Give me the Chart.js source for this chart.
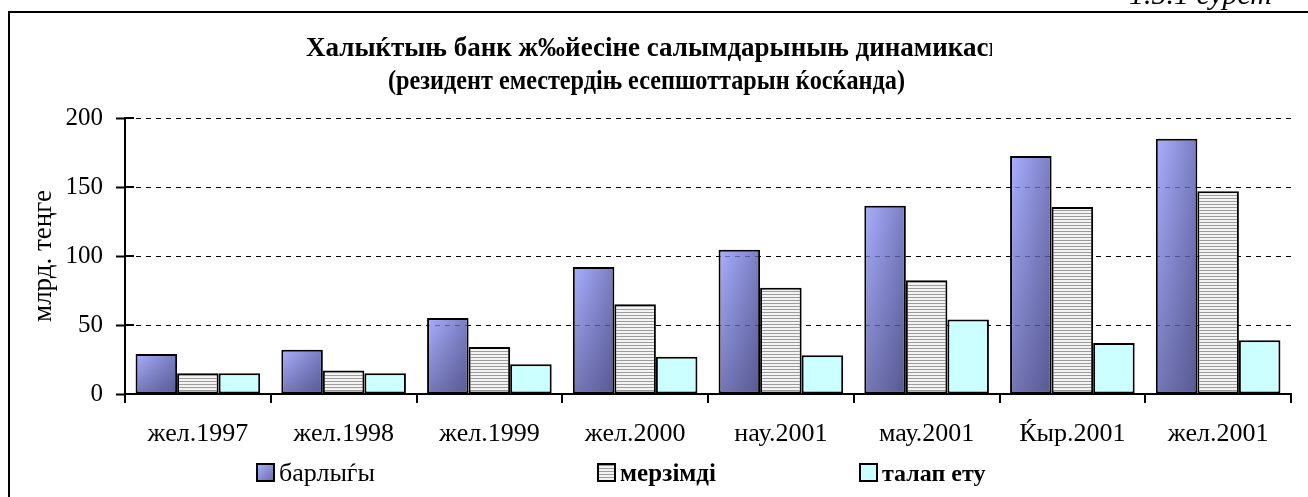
<!DOCTYPE html>
<html>
<head>
<meta charset="utf-8">
<script src="https://cdn.jsdelivr.net/npm/chart.js@4.4.1/dist/chart.umd.min.js"></script>
<style>
  html, body { margin: 0; padding: 0; background: #fff; }
  #wrap { position: relative; width: 1308px; height: 497px; overflow: hidden; }
</style>
</head>
<body>
<div id="wrap"><canvas id="chart" width="1308" height="497"></canvas></div>
<script>
// chart data
const months = ['жел.1997', 'жел.1998', 'жел.1999', 'жел.2000', 'нау.2001', 'мау.2001', 'Ќыр.2001', 'жел.2001'];
const totalVals = [29, 32, 55, 92, 104.5, 136.5, 172.5, 185];
const termVals = [15, 17, 34, 65, 77, 82.5, 135.5, 147];
const demandVals = [15, 15, 21.5, 27, 28, 54, 37, 39];
const seriesNames = ['барлыѓы', 'мерзімді', 'талап ету'];
const yMax = 200;
const yStep = 50;
const titleLines = ['Халыќтыњ банк ж‰йесіне салымдарыныњ динамикасы', '(резидент еместердіњ есепшоттарын ќосќанда)'];
const yTitle = 'млрд. теңге';
const figLabel = '1.5.1 сурет';

const SERIF = '"Liberation Serif", "Times New Roman", serif';
Chart.defaults.font.family = SERIF;
Chart.defaults.color = '#000';

const canvas = document.getElementById('chart');
const ctx = canvas.getContext('2d');

// horizontal hatch for "мерзімді"
function makeHatch() {
    const c = document.createElement('canvas');
    c.width = 4; c.height = 3;
    const g = c.getContext('2d');
    g.fillStyle = '#f3f3f3'; g.fillRect(0, 0, 4, 3);
    g.fillStyle = '#9c9c9c'; g.fillRect(0, 0, 4, 1);
    return ctx.createPattern(c, 'repeat');
}
const hatch = makeHatch();

// vertical light->dark blue for "барлыѓы"
function blueFill(c) {
    const chart = c.chart;
    if (!chart.chartArea || c.type !== 'data') return '#9a9ee8';
    const ys = chart.scales.y;
    const top = ys.getPixelForValue(c.raw), base = ys.getPixelForValue(0);
    const g = chart.ctx.createLinearGradient(0, top, 0, base);
    g.addColorStop(0, '#aab0ff');
    g.addColorStop(1, '#7678b6');
    return g;
}

// darken right side of blue bars + faint grid through them
const shadePlugin = {
    id: 'shade',
    afterDatasetsDraw(chart) {
        const c = chart.ctx, ys = chart.scales.y, area = chart.chartArea;
        chart.getDatasetMeta(0).data.forEach(bar => {
            const { x, y, base, width } = bar.getProps(['x', 'y', 'base', 'width'], true);
            const l = x - width / 2, r = x + width / 2;
            const g = c.createLinearGradient(l, 0, r, 0);
            g.addColorStop(0, 'rgba(30,30,80,0)');
            g.addColorStop(1, 'rgba(30,30,80,0.35)');
            c.save();
            c.beginPath();
            c.rect(l + 2, y + 2, width - 4, base - y - 4);
            c.clip();
            c.fillStyle = g;
            c.fillRect(l, y, width, base - y);
            c.setLineDash([5, 5]);
            c.strokeStyle = 'rgba(0,0,60,0.35)';
            c.lineWidth = 1;
            ys.ticks.forEach((t, i) => {
                const py = Math.round(ys.getPixelForTick(i)) + 0.5;
                c.beginPath();
                c.moveTo(area.left, py);
                c.lineTo(area.right, py);
                c.stroke();
            });
            c.restore();
        });
    }
};

// frame, title, figure label, legend, inner tick marks
const decorPlugin = {
    id: 'decor',
    afterDraw(chart) {
        const c = chart.ctx, ys = chart.scales.y, area = chart.chartArea;
        c.save();
        // inner half of y ticks
        c.strokeStyle = '#000';
        c.lineWidth = 2;
        ys.ticks.forEach((t, i) => {
            const py = Math.round(ys.getPixelForTick(i));
            c.beginPath();
            c.moveTo(area.left, py);
            c.lineTo(area.left + 9, py);
            c.stroke();
        });
        // frame
        c.beginPath();
        c.moveTo(9, 497);
        c.lineTo(9, 12);
        c.lineTo(1308, 12);
        c.stroke();

        c.fillStyle = '#000';
        c.textBaseline = 'alphabetic';
        // figure label, mostly cut off at the top
        c.font = 'italic 30px ' + SERIF;
        c.textAlign = 'right';
        c.fillText(figLabel, 1272, 4);

        // title
        c.font = 'bold 27px ' + SERIF;
        c.textAlign = 'left';
        c.save();
        c.beginPath();
        c.rect(0, 20, 992, 60);
        c.clip();
        c.fillText(titleLines[0], 306, 56);
        c.restore();
        // second line: same size, a bit condensed
        c.save();
        const w2 = c.measureText(titleLines[1]).width;
        const sx = 517 / w2;
        c.translate(388, 89);
        c.scale(sx, 1);
        c.fillText(titleLines[1], 0, 0);
        c.restore();

        // legend
        const fills = chart.data.datasets.map(d => d.backgroundColor);
        const xs = [257, 598, 860];
        const fonts = ['26px ', 'bold 25px ', 'bold 24px '];
        xs.forEach((bx, i) => {
            let f = fills[i];
            if (typeof f === 'function') {
                f = c.createLinearGradient(bx, 464, bx + 17, 481);
                f.addColorStop(0, '#aab0ff');
                f.addColorStop(1, '#6a6ca8');
            }
            c.fillStyle = f;
            c.fillRect(bx, 464, 17, 17);
            c.lineWidth = 2;
            c.strokeRect(bx, 464, 17, 17);
            c.fillStyle = '#000';
            c.textAlign = 'left';
            c.font = fonts[i] + SERIF;
            c.fillText(seriesNames[i], bx + 22, 481);
        });
        c.restore();
    }
};

new Chart(ctx, {
    type: 'bar',
    data: {
        labels: months,
        datasets: [
            { label: seriesNames[0], data: totalVals, backgroundColor: blueFill },
            { label: seriesNames[1], data: termVals, backgroundColor: hatch },
            { label: seriesNames[2], data: demandVals, backgroundColor: '#ccffff' }
        ]
    },
    options: {
        responsive: false,
        animation: false,
        layout: { padding: { left: 0, right: 17, top: 118, bottom: 0 } },
        datasets: {
            bar: {
                borderColor: '#000',
                borderWidth: 2,
                borderSkipped: false,
                categoryPercentage: 0.855,
                barPercentage: 1
            }
        },
        plugins: {
            legend: { display: false },
            title: { display: false },
            tooltip: { enabled: false }
        },
        scales: {
            x: {
                grid: { drawOnChartArea: false, offset: true, color: '#000', lineWidth: 2, tickLength: 9 },
                border: { color: '#000', width: 2 },
                ticks: { color: '#000', font: { size: 26 }, padding: 16, maxRotation: 0 },
                afterFit: s => { s.height = 103; }
            },
            y: {
                min: 0,
                max: yMax,
                ticks: { stepSize: yStep, color: '#000', font: { size: 25 }, padding: 13 },
                grid: { color: '#000', lineWidth: 1, tickLength: 9, tickWidth: 2, tickColor: '#000', tickBorderDash: [] },
                border: { color: '#000', width: 2, dash: [5, 5] },
                title: { display: true, text: yTitle, color: '#000', font: { size: 27 }, padding: { top: 28, bottom: 0 } },
                afterFit: s => { s.width = 125; }
            }
        }
    },
    plugins: [shadePlugin, decorPlugin]
});
</script>
</body>
</html>
